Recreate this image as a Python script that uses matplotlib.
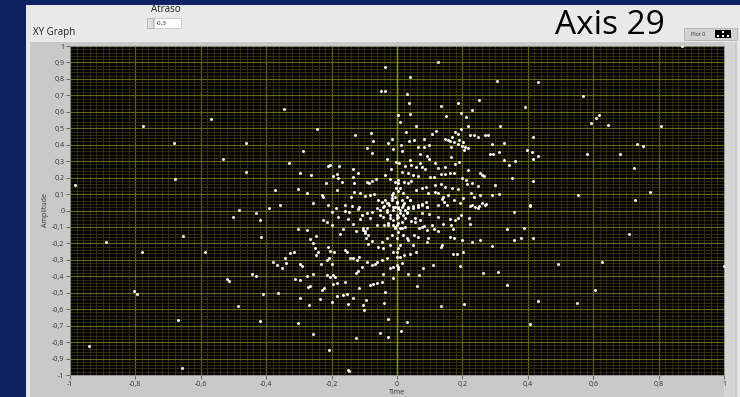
import numpy as np
import matplotlib
matplotlib.use("Agg")
import matplotlib.pyplot as plt
from matplotlib.patches import Rectangle

plt.rcParams['font.family'] = ['Open Sans', 'DejaVu Sans']

# points, grouped by region (Time, Amplitude)
outer_pts = [(-0.985, 0.155), (-0.943, -0.824), (-0.89, -0.19), (-0.67, -0.666), (-0.658, -0.959),
             (-0.15, -0.567), (-0.15, -0.97), (-0.147, -0.976), (-0.777, 0.516), (-0.57, 0.554),
             (-0.682, 0.408), (-0.531, 0.313), (-0.68, 0.19), (-0.654, -0.155), (-0.78, -0.25),
             (-0.805, -0.49), (-0.795, -0.51), (-0.587, -0.252), (-0.52, -0.416), (-0.514, -0.429),
             (0.872, 1.0), (0.568, 0.696), (0.619, 0.579), (0.608, 0.562), (0.592, 0.53),
             (0.645, 0.52), (0.807, 0.516), (0.735, 0.406), (0.753, 0.394), (0.582, 0.345),
             (0.681, 0.343), (0.725, 0.26), (0.554, 0.096), (0.773, 0.112), (0.727, 0.062),
             (0.711, -0.141), (0.628, -0.311), (1.0, -0.335), (0.606, -0.485), (0.55, -0.56)]

upper_left = [(-0.036, 0.874), (-0.049, 0.725), (-0.037, 0.725), (-0.347, 0.615), (-0.244, 0.497),
              (-0.462, 0.41), (-0.128, 0.457), (-0.08, 0.471), (-0.072, 0.424), (-0.015, 0.433),
              (-0.027, 0.408), (-0.093, 0.378), (-0.011, 0.372), (-0.076, 0.35), (-0.287, 0.36),
              (-0.331, 0.291), (-0.032, 0.315), (-0.462, 0.234), (-0.212, 0.27), (-0.206, 0.277),
              (-0.176, 0.27), (-0.134, 0.25), (-0.017, 0.254), (-0.297, 0.228), (-0.263, 0.214),
              (-0.196, 0.21), (-0.183, 0.222), (-0.18, 0.196), (-0.135, 0.202), (-0.118, 0.226),
              (-0.216, 0.169), (-0.169, 0.173), (-0.183, 0.125), (-0.131, 0.165), (-0.091, 0.175),
              (-0.085, 0.169), (-0.077, 0.181), (-0.064, 0.193), (-0.036, 0.214), (-0.021, 0.191),
              (-0.007, 0.175), (-0.373, 0.125), (-0.302, 0.131), (-0.274, 0.105), (-0.228, 0.094),
              (-0.227, 0.084), (-0.142, 0.084), (-0.131, 0.114), (-0.113, 0.108), (-0.099, 0.088),
              (-0.083, 0.094), (-0.069, 0.1), (-0.358, 0.032), (-0.39, 0.015), (-0.257, 0.044),
              (-0.212, 0.032), (-0.159, 0.032), (-0.138, 0.027), (-0.117, 0.019)]

upper_right = [(0.126, 0.905), (0.041, 0.814), (0.305, 0.787), (0.431, 0.781), (0.03, 0.71),
               (0.037, 0.656), (0.135, 0.635), (0.188, 0.656), (0.251, 0.674), (0.391, 0.631),
               (0.228, 0.611), (0.004, 0.581), (0.039, 0.587), (0.15, 0.573), (0.196, 0.591),
               (0.211, 0.567), (0.01, 0.54), (0.057, 0.514), (0.216, 0.514), (0.316, 0.516),
               (0.197, 0.495), (0.027, 0.477), (0.118, 0.483), (0.108, 0.465), (0.178, 0.477),
               (0.188, 0.465), (0.223, 0.457), (0.236, 0.457), (0.247, 0.447), (0.269, 0.457),
               (0.279, 0.457), (0.417, 0.445), (0.083, 0.437), (0.147, 0.437), (0.157, 0.429),
               (0.169, 0.445), (0.175, 0.418), (0.162, 0.422), (0.038, 0.422), (0.053, 0.427),
               (0.099, 0.4), (0.19, 0.429), (0.201, 0.418), (0.188, 0.402), (0.198, 0.392),
               (0.208, 0.384), (0.216, 0.378), (0.206, 0.368), (0.292, 0.404), (0.326, 0.41),
               (0.397, 0.368), (0.412, 0.357), (0.432, 0.331), (0.415, 0.313), (0.012, 0.396),
               (0.014, 0.364), (0.065, 0.384), (0.083, 0.384), (0.165, 0.384), (0.312, 0.356),
               (0.283, 0.342), (0.294, 0.342), (0.071, 0.342), (0.091, 0.331), (0.04, 0.307),
               (0.098, 0.311), (0.164, 0.323), (0.328, 0.305), (0.342, 0.277), (0.361, 0.301),
               (0.191, 0.295), (0.177, 0.281), (-0.004, 0.297), (0.006, 0.287), (0.024, 0.27),
               (0.043, 0.275), (0.057, 0.266), (0.07, 0.287), (0.075, 0.263), (0.086, 0.254),
               (0.116, 0.291), (0.126, 0.257), (0.147, 0.266), (0.218, 0.246), (0.254, 0.23),
               (0.261, 0.216), (0.267, 0.21), (0.014, 0.236), (0.035, 0.226), (0.05, 0.216),
               (0.065, 0.21), (0.101, 0.202), (0.114, 0.202), (0.135, 0.222), (0.147, 0.222),
               (0.162, 0.226), (0.175, 0.226), (0.353, 0.196), (0.417, 0.181), (0.004, 0.185),
               (0.022, 0.175), (0.033, 0.165), (0.043, 0.181), (0.198, 0.196), (0.21, 0.185),
               (0.214, 0.161), (0.228, 0.169), (0.249, 0.149), (0.3, 0.153), (0.116, 0.155),
               (0.135, 0.161), (0.147, 0.145), (0.167, 0.135), (0.186, 0.129), (0.057, 0.125),
               (0.075, 0.135), (0.088, 0.145), (0.096, 0.108), (0.116, 0.114), (0.126, 0.108),
               (0.142, 0.084), (0.157, 0.094), (0.175, 0.064), (0.193, 0.047), (0.203, 0.074),
               (0.226, 0.105), (0.236, 0.084), (0.254, 0.094), (0.261, 0.047), (0.271, 0.04),
               (0.251, 0.027), (0.29, 0.094), (0.312, 0.1), (0.407, 0.032), (0.009, 0.135),
               (0.019, 0.105), (0.03, 0.084), (0.014, 0.064), (0.04, 0.064), (0.05, 0.027),
               (0.065, 0.033), (0.075, 0.04), (0.091, 0.023), (0.088, 0.054), (0.035, 0.023),
               (0.004, 0.023), (-0.001, 0.054), (0.022, 0.044), (0.137, 0.068), (0.145, 0.054),
               (0.126, 0.033), (0.152, 0.033), (0.223, 0.027), (0.239, 0.023)]

core_pts = [(-0.057, 0.064), (-0.047, 0.054), (-0.04, 0.027), (-0.031, 0.047), (-0.024, 0.033),
            (-0.016, 0.064), (-0.011, 0.023), (0.0, 0.044), (0.004, 0.013), (-0.006, 0.084),
            (-0.013, 0.105), (-0.003, 0.135), (0.002, 0.165), (0.004, 0.12), (-0.037, 0.064),
            (-0.027, 0.044), (-0.016, 0.074), (-0.006, 0.023), (-0.001, 0.054), (0.009, 0.003),
            (0.019, 0.033), (0.03, -0.017), (-0.032, 0.003), (-0.021, -0.027), (-0.011, -0.058),
            (0.004, -0.038), (0.014, -0.068), (0.024, -0.047), (0.035, 0.013), (-0.042, -0.038),
            (-0.052, 0.003), (-0.006, -0.098), (0.009, -0.108), (-0.027, -0.088), (0.04, 0.064),
            (-0.016, 0.094), (-0.062, 0.013), (-0.052, -0.027), (-0.042, 0.023), (-0.032, -0.007),
            (-0.021, -0.047), (-0.011, 0.003), (-0.001, -0.027), (0.004, -0.078), (-0.006, -0.108),
            (-0.016, -0.149), (-0.032, -0.169), (-0.047, -0.19), (-0.057, -0.22), (-0.042, -0.23),
            (-0.021, -0.21), (-0.011, -0.25), (-0.001, -0.281), (0.004, -0.23), (-0.062, -0.088),
            (-0.083, -0.047), (-0.077, -0.007), (-0.093, -0.017), (-0.088, -0.149), (-0.077, -0.185),
            (-0.04, -0.088), (-0.027, -0.078), (-0.013, -0.088), (0.004, 0.013), (0.014, 0.023),
            (0.024, 0.003), (0.009, -0.017), (0.019, -0.027), (-0.001, -0.047), (0.03, -0.007),
            (0.035, 0.013), (0.05, 0.013), (0.065, 0.023), (0.075, 0.033), (0.091, 0.023),
            (-0.103, -0.119), (-0.098, -0.139), (-0.093, -0.108)]

lower_left = [(-0.482, 0.003), (-0.502, -0.038), (-0.432, -0.017), (-0.418, -0.06), (-0.417, -0.159),
              (-0.302, -0.112), (-0.276, -0.119), (-0.266, -0.175), (-0.258, -0.196), (-0.248, -0.153),
              (-0.225, -0.058), (-0.215, -0.072), (-0.2, -0.011), (-0.187, 0.013), (-0.18, -0.038),
              (-0.2, -0.088), (-0.164, -0.112), (-0.174, -0.145), (-0.159, -0.003), (-0.146, -0.007),
              (-0.149, -0.052), (-0.135, -0.084), (-0.125, -0.125), (-0.118, 0.009), (-0.113, -0.052),
              (-0.108, -0.027), (-0.103, -0.108), (-0.098, -0.125), (-0.095, -0.169), (-0.088, -0.205),
              (-0.38, -0.315), (-0.368, -0.331), (-0.353, -0.348), (-0.343, -0.287), (-0.327, -0.26),
              (-0.315, -0.25), (-0.339, -0.321), (-0.297, -0.327), (-0.291, -0.336), (-0.444, -0.388),
              (-0.432, -0.4), (-0.312, -0.417), (-0.297, -0.423), (-0.274, -0.396), (-0.258, -0.388),
              (-0.271, -0.463), (-0.266, -0.457), (-0.251, -0.23), (-0.241, -0.25), (-0.248, -0.271),
              (-0.233, -0.327), (-0.215, -0.301), (-0.207, -0.291), (-0.2, -0.327), (-0.21, -0.22),
              (-0.205, -0.246), (-0.193, -0.25), (-0.215, -0.392), (-0.205, -0.402), (-0.197, -0.392),
              (-0.19, -0.402), (-0.183, -0.439), (-0.195, -0.445), (-0.23, -0.483), (-0.222, -0.473),
              (-0.159, -0.24), (-0.154, -0.25), (-0.144, -0.291), (-0.134, -0.287), (-0.123, -0.301),
              (-0.115, -0.281), (-0.108, -0.342), (-0.125, -0.382), (-0.12, -0.368), (-0.093, -0.315),
              (-0.077, -0.331), (-0.067, -0.327), (-0.062, -0.315), (-0.047, -0.301), (-0.032, -0.291),
              (-0.021, -0.348), (-0.011, -0.342), (-0.001, -0.331), (-0.159, -0.437), (-0.152, -0.51),
              (-0.135, -0.534), (-0.115, -0.473), (-0.103, -0.575), (-0.101, -0.605), (-0.095, -0.544),
              (-0.083, -0.453), (-0.072, -0.449), (-0.062, -0.443), (-0.047, -0.437), (-0.042, -0.388),
              (-0.037, -0.497), (-0.04, -0.564), (-0.013, -0.409), (-0.235, -0.538), (-0.2, -0.558),
              (-0.183, -0.518), (-0.164, -0.514), (-0.297, -0.53), (-0.268, -0.574), (-0.365, -0.5),
              (-0.411, -0.508), (-0.486, -0.581), (-0.419, -0.674), (-0.302, -0.686), (-0.257, -0.753),
              (-0.208, -0.85), (-0.125, -0.777), (-0.052, -0.745), (-0.027, -0.662), (-0.027, -0.771)]

lower_right = [(0.055, -0.047), (0.07, -0.058), (0.055, -0.068), (0.043, -0.064), (0.075, -0.017),
               (0.098, -0.023), (0.126, -0.038), (-0.001, -0.088), (0.014, -0.108), (0.024, -0.098),
               (0.004, -0.129), (0.019, -0.149), (0.03, -0.169), (-0.001, -0.169), (0.035, -0.179),
               (0.009, -0.21), (-0.001, -0.25), (0.068, -0.105), (0.075, -0.098), (0.083, -0.094),
               (0.091, -0.118), (0.106, -0.088), (0.114, -0.112), (0.124, -0.125), (0.096, -0.169),
               (0.091, -0.194), (0.065, -0.159), (0.053, -0.149), (0.05, -0.21), (0.057, -0.25),
               (0.04, -0.266), (0.022, -0.27), (0.009, -0.281), (0.014, -0.321), (0.002, -0.342),
               (0.002, -0.356), (0.142, -0.084), (0.162, -0.052), (0.177, -0.058), (0.188, -0.047),
               (0.196, -0.027), (0.22, -0.044), (0.223, -0.084), (0.165, -0.088), (0.172, -0.112),
               (0.162, -0.159), (0.175, -0.169), (0.198, -0.179), (0.228, -0.19), (0.254, -0.179),
               (0.137, -0.21), (0.135, -0.22), (0.172, -0.266), (0.183, -0.262), (0.203, -0.25),
               (0.193, -0.337), (0.109, -0.331), (0.08, -0.348), (0.067, -0.392), (0.035, -0.388),
               (0.06, -0.461), (0.228, 0.033), (0.249, 0.017), (0.269, 0.033), (0.359, -0.007),
               (0.406, 0.029), (0.335, -0.112), (0.389, -0.105), (0.358, -0.179), (0.379, -0.169),
               (0.415, -0.169), (0.29, -0.218), (0.493, -0.327), (0.262, -0.378), (0.308, -0.372),
               (0.431, -0.55), (0.407, -0.69), (0.336, -0.453), (0.205, -0.57), (0.135, -0.58),
               (0.031, -0.68), (0.012, -0.73)]

x_ticks = [-1, -0.8, -0.6, -0.4, -0.2, 0, 0.2, 0.4, 0.6, 0.8, 1]
x_tick_labels = ['-1', '-0,8', '-0,6', '-0,4', '-0,2', '0', '0,2', '0,4', '0,6', '0,8', '1']
y_ticks = [-1, -0.9, -0.8, -0.7, -0.6, -0.5, -0.4, -0.3, -0.2, -0.1, 0,
           0.1, 0.2, 0.3, 0.4, 0.5, 0.6, 0.7, 0.8, 0.9, 1]
y_tick_labels = ['-1', '-0,9', '-0,8', '-0,7', '-0,6', '-0,5', '-0,4', '-0,3', '-0,2', '-0,1', '0',
                 '0,1', '0,2', '0,3', '0,4', '0,5', '0,6', '0,7', '0,8', '0,9', '1']

W, H = 740, 397


def fx(px):
    return px / W


def fy(py):
    return 1 - py / H


fig = plt.figure(figsize=(7.4, 3.97), dpi=100, facecolor='#0b2461')


def box(x0, y0, x1, y1, color, ec='none', lw=0, z=-5):
    fig.add_artist(Rectangle((fx(x0), fy(y1)), fx(x1) - fx(x0), fy(y0) - fy(y1),
                             transform=fig.transFigure, facecolor=color, edgecolor=ec,
                             linewidth=lw, zorder=z))


# panels behind the graph
box(26, 5, 740, 397, '#e9e9e9', z=-10)
box(30, 42, 737, 397, '#c9c9c9', z=-9)
box(724, 42, 735, 397, '#d6d6d6', z=-8)

# control "Atraso"
fig.text(fx(166), fy(10), 'Atraso', fontsize=7, ha='center', va='center', color='#222222')
box(154, 18, 181, 28, 'white', ec='#bbbbbb', lw=0.5)
box(147, 18, 153, 28, '#dddddd', ec='#aaaaaa', lw=0.5)
fig.text(fx(156), fy(23), '-0,3', fontsize=4.5, ha='left', va='center', color='#222222')

fig.text(fx(33), fy(33), 'XY Graph', fontsize=7, ha='left', va='center', color='#222222')
fig.text(fx(610), fy(26), 'Axis 29', fontsize=24, ha='center', va='center', color='black')

# plot legend
box(684, 28, 737, 40, '#d2d2d2', ec='#a8a8a8', lw=0.5)
fig.text(fx(698), fy(34), 'Plot 0', fontsize=4, ha='center', va='center', color='#333333')
box(715, 30, 731, 38, 'black')

ax = fig.add_axes([fx(70), fy(375), fx(724) - fx(70), fy(46) - fy(375)])
ax.set_facecolor('black')
ax.set_xlim(-1, 1)
ax.set_ylim(-1, 1)

ax.set_xticks(x_ticks)
ax.set_xticklabels(x_tick_labels)
ax.set_yticks(y_ticks)
ax.set_yticklabels(y_tick_labels)
ax.set_xticks(np.arange(-1, 1.001, 0.02), minor=True)
ax.set_yticks(np.arange(-1, 1.001, 0.02), minor=True)
ax.grid(which='minor', color='#36360f', linewidth=0.6)
ax.grid(which='major', color='#66661a', linewidth=0.9)
ax.axvline(0, color='#8c8c2a', linewidth=1.0)
ax.set_axisbelow(True)
ax.tick_params(which='minor', length=0)
ax.tick_params(which='major', length=3, width=0.6, color='#555555', labelsize=5,
               labelcolor='#333333', pad=1)
for s in ax.spines.values():
    s.set_color('#8a8a8a')
    s.set_linewidth(0.6)

groups = [outer_pts, upper_left, upper_right, core_pts, lower_left, lower_right]
for g in groups:
    arr = np.array(g)
    ax.scatter(arr[:, 0], arr[:, 1], s=4.5, c='white', marker='o', linewidths=0, zorder=3)

ax.set_xlabel('Time', fontsize=5, color='#333333', labelpad=1)
ax.set_ylabel('Amplitude', fontsize=5, color='#333333', labelpad=2)

# swatch dots in the legend
lax = fig.add_axes([fx(715), fy(38), fx(731) - fx(715), fy(30) - fy(38)])
lax.set_xlim(0, 1)
lax.set_ylim(0, 1)
lax.axis('off')
lax.scatter([0.2, 0.5, 0.8, 0.5], [0.3, 0.75, 0.3, 0.25], s=1.5, c='white', marker='s', linewidths=0)

fig.savefig('out.png', dpi=100, facecolor=fig.get_facecolor())
